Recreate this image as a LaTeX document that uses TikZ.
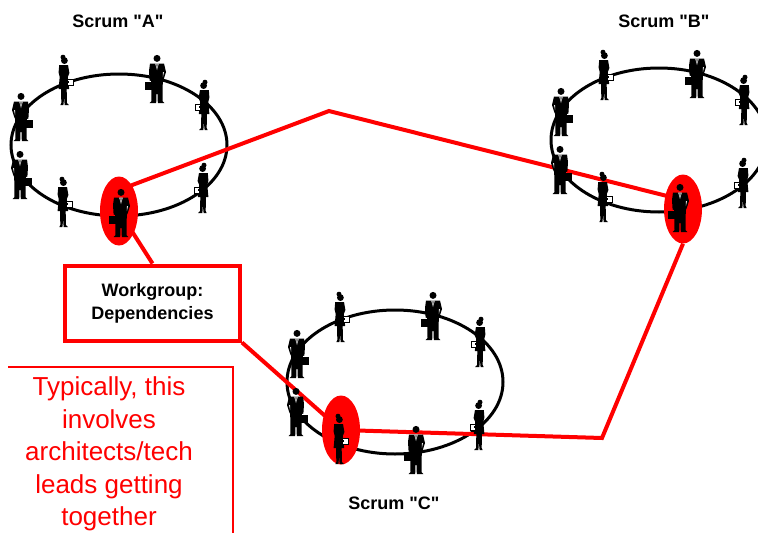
\documentclass[tikz,border=0pt]{standalone}
\usepackage{fontspec}
\setmainfont{Liberation Sans}[Ligatures=TeXOff]
\usetikzlibrary{shapes.geometric}

\pgfdeclarelayer{rings}
\pgfdeclarelayer{links}
\pgfsetlayers{rings,links,main}

% Silhouettes: origin at the feet, figure about 48 units tall
\tikzset{
  man/.pic={
    \fill (0,-44.6) circle (3.5);
    \fill (-7,-39.5) -- (7,-39.5) -- (9,-31) -- (6.8,-24) -- (5.8,-22)
      -- (5.5,-2) -- (7.4,0) -- (0.8,0) -- (0.5,-9) -- (-0.5,-9) -- (-0.8,0)
      -- (-7.4,0) -- (-5.5,-2) -- (-5.8,-22) -- (-7.4,-22.5) -- (-8,-32) -- cycle;
    \fill (-12.4,-21) rectangle (-5.4,-12.8);
    \fill[white] (-1.8,-39.5) -- (1.8,-39.5) -- (0,-33) -- cycle;
    \fill (-0.6,-38.6) -- (0.6,-38.6) -- (0,-33.4) -- cycle;
    \fill[white] (5.8,-30.5) -- (7,-31) -- (5.9,-26) -- cycle;
  },
  woman/.pic={
    \fill (0.4,-44.4) circle (3.4);
    \fill (-1,-47.8) circle (2.5);
    \fill (-4.8,-40) -- (4,-40) -- (5.4,-32) -- (3.8,-28) -- (5.2,-16)
      -- (2.7,-16) -- (2.9,-2) -- (5,0) -- (0.6,0) -- (0.2,-8) -- (-0.6,0)
      -- (-3.6,0) -- (-2.7,-2) -- (-2.9,-16) -- (-5.4,-16) -- (-4.3,-28)
      -- (-5.4,-32.5) -- cycle;
    \filldraw[fill=white,draw=black,line width=0.4pt] (3.4,-25.5) rectangle (8.8,-20.2);
    \fill (3.2,-24.5) rectangle (5,-22.3);
  },
  ring/.style={draw=black,line width=3pt},
  link/.style={draw=red,line width=4pt,line join=miter},
  lead/.style={ellipse,fill=red,inner sep=0pt,minimum width=38pt,minimum height=69pt},
  title/.style={font=\fontsize{18}{22}\selectfont\bfseries},
  groupbox/.style={draw=red,line width=4pt,fill=white,minimum width=175pt,
    minimum height=75pt,align=center,inner sep=0pt,
    font=\fontsize{18}{23}\selectfont\bfseries},
  note/.style={text=red,align=center,inner sep=0pt,
    font=\fontsize{26}{32.5}\selectfont},
}

% Eight people standing round one team ellipse; #3 = offset of the front man
\newcommand\crowd[3]{%
  \begin{scope}[shift={(#1,#2)}]
    \pic at (-55,-40) {woman};
    \pic at (38,-42) {man};
    \pic[xscale=-1] at (85,-15) {woman};
    \pic[xscale=-1] at (-98,-4) {man};
    \pic[xscale=-1] at (-99,54) {man};
    \pic at (-56,82) {woman};
    \pic at (#3,92) {man};
    \pic[xscale=-1] at (84,68) {woman};
  \end{scope}}

\begin{document}
\begin{tikzpicture}[x=1pt,y=-1pt]
  \useasboundingbox (0,0) rectangle (758,533);
  \clip (0,0) rectangle (758,533);

  % team rings
  \begin{pgfonlayer}{rings}
    \draw[ring] (119,145) ellipse [x radius=108, y radius=71];
    \draw[ring] (659,140) ellipse [x radius=108, y radius=72];
    \draw[ring] (395,382) ellipse [x radius=108, y radius=72];
  \end{pgfonlayer}

  % highlighted members and the workgroup box
  \node[lead] (ra) at (119,211) {};
  \node[lead] (rb) at (683,209) {};
  \node[lead] (rc) at (341,430) {};
  \node[groupbox] (wg) at (152.5,303) {Workgroup:\\Dependencies};

  % connector bends and ends inside the highlighted members
  \coordinate (aout) at (119,190);
  \coordinate (bin) at (683,200);
  \coordinate (peak) at (329,111);
  \coordinate (bend) at (602,438);

  \begin{pgfonlayer}{links}
    \path[link] (aout) -- (peak) -- (bin);
    \path[link] (rb.south) -- (bend) -- (rc.center);
    \path[link] (ra.center) -- (wg.north);
    \path[link] (wg.south east) -- (rc.center);
  \end{pgfonlayer}

  % people
  \crowd{119}{145}{2}
  \crowd{659}{140}{21}
  \crowd{395}{382}{21}

  % team titles
  \node[title] (ta) at (118,21) {Scrum "A"};
  \node[title] (tb) at (664,21) {Scrum "B"};
  \node[title] (tc) at (394,503) {Scrum "C"};

  % side note
  \draw[red,line width=1.5pt] (8,367) -| (233,540);
  \node[note] (nt) at (109,454) {Typically, this\\involves\\architects/tech\\leads getting\\together};
\end{tikzpicture}
\end{document}
